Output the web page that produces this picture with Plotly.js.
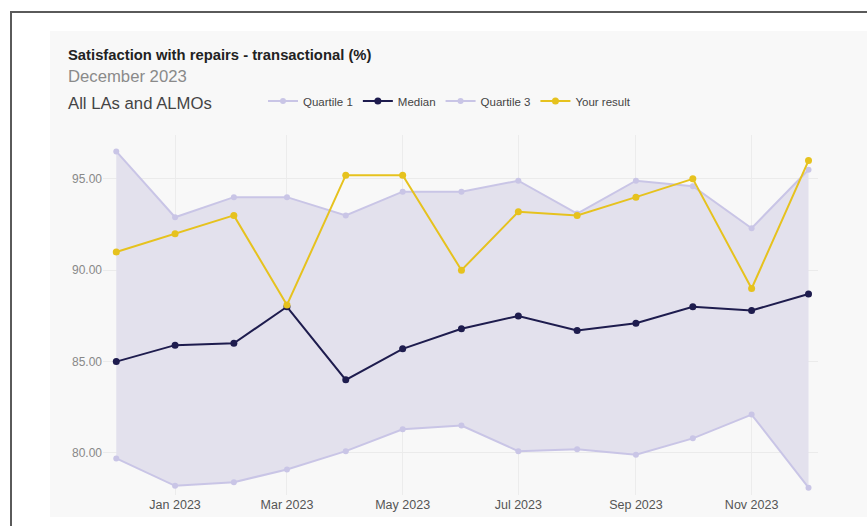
<!DOCTYPE html>
<html>
<head>
<meta charset="utf-8">
<script src="https://cdn.plot.ly/plotly-3.0.1.min.js"></script>
<style>
  html, body { margin: 0; padding: 0; background: #ffffff; }
  #wrap { position: relative; width: 867px; height: 526px; overflow: hidden; }
  #frame { position: absolute; left: 10px; top: 11px; width: 900px; height: 600px; border: 2px solid #5a5a5a; box-sizing: border-box; }
  #card { position: absolute; left: 50px; top: 31px; width: 830px; height: 486px; background: #f8f8f8; }
  #chart { position: absolute; left: 0; top: 0; width: 867px; height: 526px; }
</style>
</head>
<body>
<div id="wrap">
  <div id="frame"></div>
  <div id="card"></div>
  <div id="chart"></div>
</div>
<script>
const months = ['2022-12-01','2023-01-01','2023-02-01','2023-03-01','2023-04-01','2023-05-01','2023-06-01',
                '2023-07-01','2023-08-01','2023-09-01','2023-10-01','2023-11-01','2023-12-01'];
const quartile1 = [79.7, 78.2, 78.4, 79.1, 80.1, 81.3, 81.5, 80.1, 80.2, 79.9, 80.8, 82.1, 78.1];
const median    = [85.0, 85.9, 86.0, 88.0, 84.0, 85.7, 86.8, 87.5, 86.7, 87.1, 88.0, 87.8, 88.7];
const quartile3 = [96.5, 92.9, 94.0, 94.0, 93.0, 94.3, 94.3, 94.9, 93.1, 94.9, 94.6, 92.3, 95.5];
const yourResult= [91.0, 92.0, 93.0, 88.1, 95.2, 95.2, 90.0, 93.2, 93.0, 94.0, 95.0, 89.0, 96.0];
const yTicks = [80, 85, 90, 95];

const qColor = '#c9c5e6';
const traces = [
  // interquartile band (no legend entry)
  { x: months, y: quartile1, type: 'scatter', mode: 'lines', line: { width: 0, color: 'rgba(0,0,0,0)' },
    showlegend: false, hoverinfo: 'skip' },
  { x: months, y: quartile3, type: 'scatter', mode: 'lines', line: { width: 0, color: 'rgba(0,0,0,0)' },
    fill: 'tonexty', fillcolor: '#e3e1ed', showlegend: false, hoverinfo: 'skip' },
  { x: months, y: quartile1, name: 'Quartile 1', type: 'scatter', mode: 'lines+markers',
    line: { color: qColor, width: 2 }, marker: { color: qColor, size: 6 }, legendrank: 1 },
  { x: months, y: quartile3, name: 'Quartile 3', type: 'scatter', mode: 'lines+markers',
    line: { color: qColor, width: 2 }, marker: { color: qColor, size: 6 }, legendrank: 3 },
  { x: months, y: median, name: 'Median', type: 'scatter', mode: 'lines+markers',
    line: { color: '#1e1c4e', width: 2 }, marker: { color: '#1e1c4e', size: 7 }, legendrank: 2 },
  { x: months, y: yourResult, name: 'Your result', type: 'scatter', mode: 'lines+markers',
    line: { color: '#e6c21e', width: 2 }, marker: { color: '#e6c21e', size: 7 }, legendrank: 4 }
];

const layout = {
  width: 867, height: 526,
  paper_bgcolor: 'rgba(0,0,0,0)', plot_bgcolor: 'rgba(0,0,0,0)',
  margin: { l: 103, r: 49, t: 135, b: 31 },
  font: { family: 'Liberation Sans, Arial, sans-serif', color: '#555' },
  title: { text: '<b>Satisfaction with repairs - transactional (%)</b>', xref: 'container', yref: 'container',
           x: 68/867, xanchor: 'left', y: 1 - 55/526, yanchor: 'middle',
           font: { size: 14.8, color: '#222', family: 'Liberation Sans, Arial, sans-serif' } },
  annotations: [
    { text: 'December 2023', xref: 'paper', yref: 'paper', x: (66-103)/715, y: (495-77)/360,
      xanchor: 'left', yanchor: 'middle', showarrow: false, font: { size: 16.7, color: '#8a8a8a' } },
    { text: 'All LAs and ALMOs', xref: 'paper', yref: 'paper', x: (66-103)/715, y: (495-103)/360,
      xanchor: 'left', yanchor: 'middle', showarrow: false, font: { size: 16.7, color: '#444' } }
  ],
  showlegend: true,
  legend: { orientation: 'h', x: (263-103)/715, xanchor: 'left', y: (495-101)/360, yanchor: 'middle',
            font: { size: 11.5, color: '#444' }, bgcolor: 'rgba(0,0,0,0)', traceorder: 'normal' },
  xaxis: { type: 'date', range: ['2022-11-24', '2023-12-06'], tick0: '2023-01-01', dtick: 'M2',
           tickformat: '%b %Y', showgrid: true, gridcolor: '#ececec', zeroline: false, showline: false,
           ticks: '', tickfont: { size: 12.5, color: '#555' } },
  yaxis: { range: [77.7, 97.4], tickvals: yTicks, tickformat: '.2f', showgrid: true, gridcolor: '#ebebeb',
           zeroline: false, showline: false, ticks: '', tickfont: { size: 12, color: '#888' } }
};

Plotly.newPlot('chart', traces, layout, { displayModeBar: false, staticPlot: true });
</script>
</body>
</html>
